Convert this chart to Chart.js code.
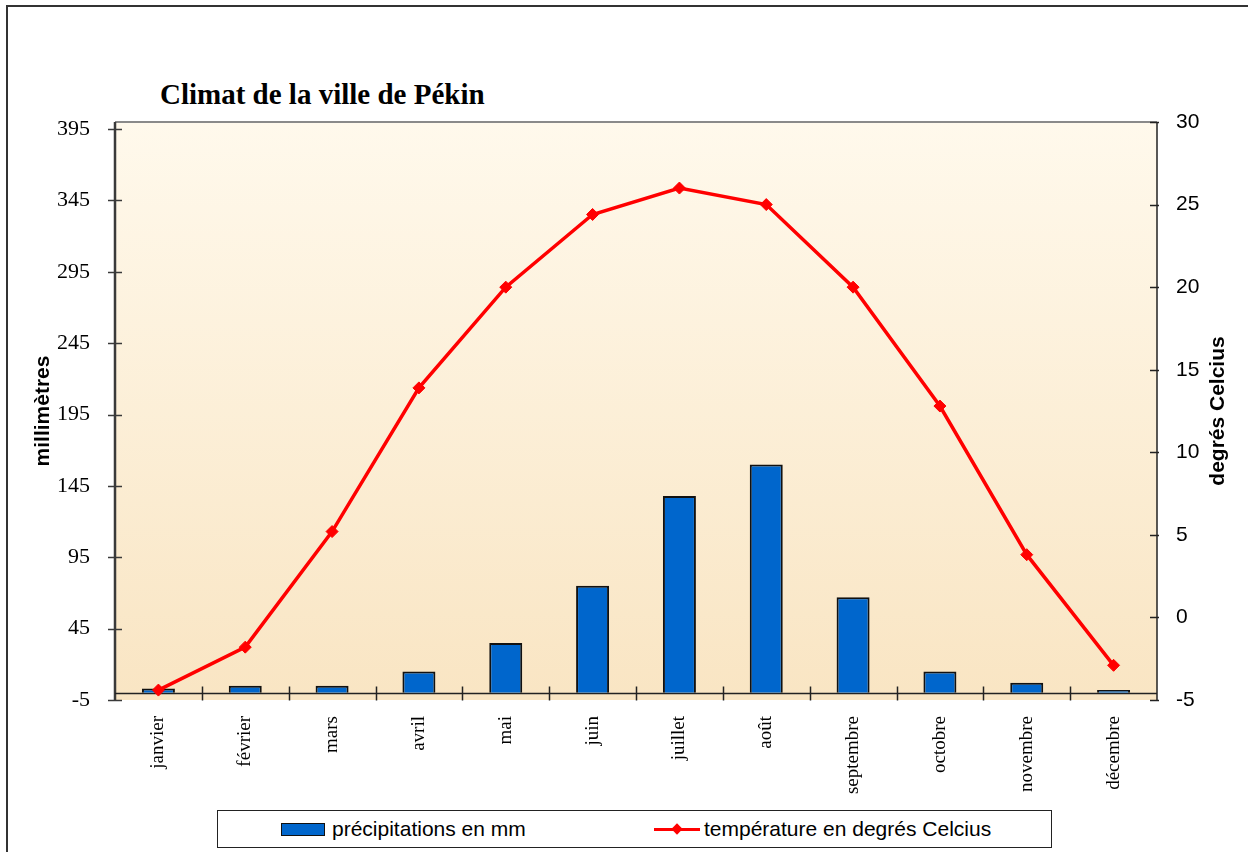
<!DOCTYPE html>
<html lang="fr">
<head>
<meta charset="utf-8">
<title>Climat de la ville de Pékin</title>
<script src="https://cdn.jsdelivr.net/npm/chart.js@4.4.1/dist/chart.umd.min.js"></script>
<style>
  html, body { margin: 0; padding: 0; background: #fff; }
  #wrap { position: relative; width: 1248px; height: 852px; overflow: hidden; }
  #frame { position: absolute; left: 6px; top: 5px; width: 1300px; height: 900px;
           border-left: 2px solid #333; border-top: 2px solid #333; box-sizing: border-box; }
  #title { position: absolute; left: 160px; top: 80px; font: bold 29px/29px "Liberation Serif", serif;
           color: #000; white-space: nowrap; }
  canvas { position: absolute; left: 0; top: 0; }
  #legend { position: absolute; left: 217px; top: 810px; width: 835px; height: 38px; box-sizing: border-box;
            border: 1.5px solid #222; background: #fff; font: 21px "Liberation Sans", Arial, sans-serif; color: #000; }
  .item { position: absolute; top: 0; height: 36px; display: flex; align-items: center; white-space: nowrap; }
  .sw-bar { width: 42px; height: 11px; background: #0066CC; border: 1.5px solid #111; margin-right: 7px; }
  .sw-line { position: relative; width: 46px; height: 12px; margin-right: 4px; }
  .sw-line::before { content: ""; position: absolute; left: 0; right: 0; top: 5px; height: 3px; background: #FF0000; }
  .sw-line::after { content: ""; position: absolute; left: 19px; top: 2px; width: 8px; height: 8px;
                    background: #FF0000; transform: rotate(45deg); }
</style>
</head>
<body>
<div id="wrap">
  <div id="frame"></div>
  <div id="title">Climat de la ville de Pékin</div>
  <canvas id="chart" width="1248" height="852"></canvas>
  <div id="legend">
    <div class="item" style="left:63px"><span class="sw-bar"></span><span id="lg-bar"></span></div>
    <div class="item" style="left:436px"><span class="sw-line"></span><span id="lg-line"></span></div>
  </div>
</div>
<script>
// ---- données ----
const months = ['janvier', 'février', 'mars', 'avril', 'mai', 'juin', 'juillet', 'août',
                'septembre', 'octobre', 'novembre', 'décembre'];
const precipitation = [3, 5, 5, 15, 35, 75, 138, 160, 67, 15, 7, 2];
const temperature = [-4.4, -1.8, 5.2, 13.9, 20.0, 24.4, 26.0, 25.0, 20.0, 12.8, 3.8, -2.9];
const mmTicks = [-5, 45, 95, 145, 195, 245, 295, 345, 395];
const precipLabel = 'précipitations en mm';
const tempLabel = 'température en degrés Celcius';
const leftTitle = 'millimètres';
const rightTitle = 'degrés Celcius';

document.getElementById('lg-bar').textContent = precipLabel;
document.getElementById('lg-line').textContent = tempLabel;

const serif = '"Liberation Serif", serif';
const sans = '"Liberation Sans", Arial, sans-serif';

// ---- fond dégradé, axes et traits de graduation ----
const plotFrame = {
  id: 'plotFrame',
  beforeDraw(chart) {
    const { ctx, chartArea: a } = chart;
    const g = ctx.createLinearGradient(0, a.top, 0, a.bottom);
    g.addColorStop(0, '#FFF9EC');
    g.addColorStop(1, '#F9E5C3');
    ctx.save();
    ctx.fillStyle = g;
    ctx.fillRect(a.left, a.top, a.right - a.left, a.bottom - a.top);
    ctx.strokeStyle = '#8a8a8a';
    ctx.lineWidth = 2;
    ctx.beginPath();
    ctx.moveTo(a.left, a.top);
    ctx.lineTo(a.right, a.top);
    ctx.stroke();
    ctx.restore();
  },
  beforeDatasetsDraw(chart) {
    const { ctx, chartArea: a, scales } = chart;
    const x = scales.x, y = scales.y, y2 = scales.y2;
    ctx.save();

    // axe gauche
    ctx.strokeStyle = '#3a3a3a';
    ctx.lineWidth = 2.5;
    ctx.beginPath();
    ctx.moveTo(a.left, a.top);
    ctx.lineTo(a.left, a.bottom + 1);
    ctx.stroke();
    ctx.lineWidth = 1.5;
    mmTicks.forEach((v) => {
      const py = Math.round(y.getPixelForValue(v)) + 0.5;
      ctx.beginPath();
      ctx.moveTo(a.left - 7, py);
      ctx.lineTo(a.left + 7, py);
      ctx.stroke();
    });

    // axe droit
    ctx.strokeStyle = '#222';
    ctx.lineWidth = 1.5;
    ctx.beginPath();
    ctx.moveTo(a.right, a.top);
    ctx.lineTo(a.right, a.bottom);
    ctx.stroke();
    y2.ticks.forEach((t) => {
      const py = Math.round(y2.getPixelForValue(t.value)) + 0.5;
      ctx.beginPath();
      ctx.moveTo(a.right - 7, py);
      ctx.lineTo(a.right + 2, py);
      ctx.stroke();
    });

    // axe des catégories, croisant à 0 mm
    const y0 = Math.round(y.getPixelForValue(0)) + 0.5;
    ctx.strokeStyle = '#222';
    ctx.lineWidth = 1.5;
    ctx.beginPath();
    ctx.moveTo(a.left, y0);
    ctx.lineTo(a.right, y0);
    ctx.stroke();
    for (let i = 0; i < months.length - 1; i++) {
      const px = Math.round((x.getPixelForValue(i) + x.getPixelForValue(i + 1)) / 2) + 0.5;
      ctx.beginPath();
      ctx.moveTo(px, y0 - 7);
      ctx.lineTo(px, y0 + 7);
      ctx.stroke();
    }
    ctx.restore();
  },
  afterDraw(chart) {
    const { ctx, chartArea: a } = chart;
    ctx.save();
    ctx.translate(1218, (a.top + a.bottom) / 2);
    ctx.rotate(-Math.PI / 2);
    ctx.font = 'bold 21px ' + sans;
    ctx.fillStyle = '#000';
    ctx.textAlign = 'center';
    ctx.textBaseline = 'middle';
    ctx.fillText(rightTitle, 0, 0);
    ctx.restore();
  }
};

new Chart(document.getElementById('chart'), {
  type: 'bar',
  data: {
    labels: months,
    datasets: [
      {
        type: 'line',
        label: tempLabel,
        data: temperature,
        yAxisID: 'y2',
        borderColor: '#FF0000',
        backgroundColor: '#FF0000',
        borderWidth: 3.5,
        pointStyle: 'rectRot',
        pointRadius: 6,
        pointBorderWidth: 1,
        tension: 0,
        order: 0,
      },
      {
        type: 'bar',
        label: precipLabel,
        data: precipitation,
        yAxisID: 'y',
        backgroundColor: '#0066CC',
        borderColor: '#111',
        borderWidth: 2,
        barPercentage: 0.38,
        categoryPercentage: 1,
        order: 1,
      },
    ],
  },
  options: {
    responsive: false,
    animation: false,
    layout: { padding: { left: 10, right: 10, top: 122, bottom: 52 } },
    plugins: {
      legend: { display: false },
      tooltip: { enabled: false },
    },
    scales: {
      x: {
        grid: { display: false },
        border: { display: false },
        ticks: {
          color: '#000',
          font: { family: serif, size: 19 },
          minRotation: 90,
          maxRotation: 90,
          autoSkip: false,
          padding: 8,
        },
        afterFit: (s) => { s.height = 100; },
      },
      y: {
        position: 'left',
        min: -5,
        max: 400,
        grid: { display: false },
        border: { display: false },
        afterBuildTicks: (s) => { s.ticks = mmTicks.map((v) => ({ value: v })); },
        ticks: {
          color: '#000',
          font: { family: serif, size: 22 },
          padding: 17,
        },
        title: {
          display: true,
          text: leftTitle,
          color: '#000',
          font: { family: sans, size: 21, weight: 'bold' },
          padding: { top: 21, bottom: 0 },
        },
        afterFit: (s) => { s.width = 105; },
      },
      y2: {
        position: 'right',
        min: -5,
        max: 30,
        grid: { display: false },
        border: { display: false },
        ticks: {
          stepSize: 5,
          color: '#000',
          font: { family: sans, size: 21 },
          padding: 11,
        },
        afterFit: (s) => { s.width = 81; },
      },
    },
  },
  plugins: [plotFrame],
});
</script>
</body>
</html>
